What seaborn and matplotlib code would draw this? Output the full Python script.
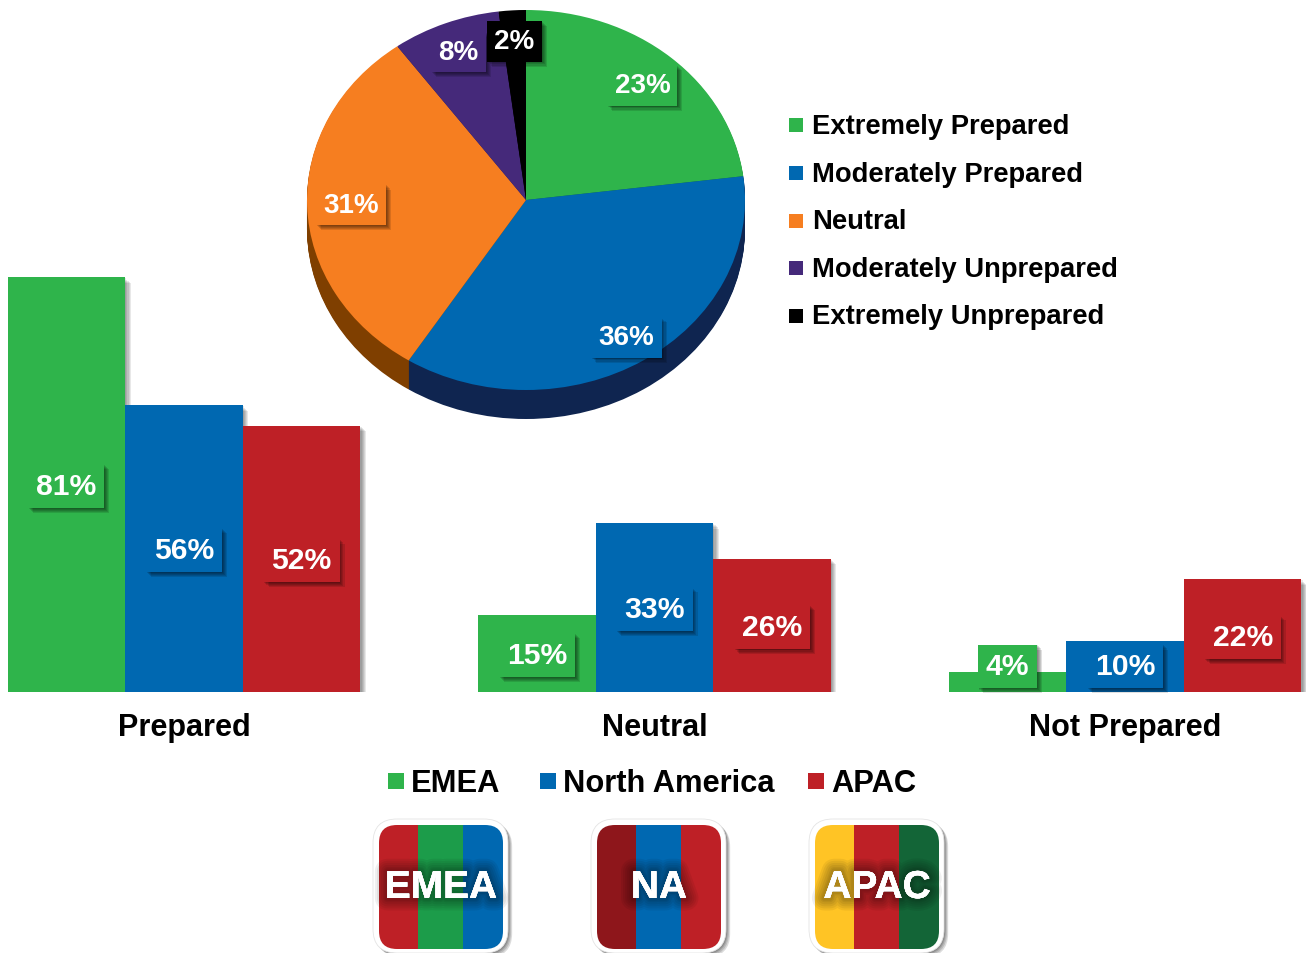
import pandas as pd
import numpy as np
import matplotlib
matplotlib.use("Agg")
import matplotlib.pyplot as plt
import matplotlib.patheffects as pe
from matplotlib.patches import FancyBboxPatch, Rectangle
import seaborn as sns

W, H = 1306, 954

# pie data
pie_labels = ["Extremely Prepared", "Moderately Prepared", "Neutral",
              "Moderately Unprepared", "Extremely Unprepared"]
pie_values = [23, 36, 31, 8, 2]
pie_colors = ["#2FB44B", "#0068B1", "#F67E20", "#45297A", "#000000"]
pie_sides = ["#1A6B2B", "#0F2550", "#7F3F00", "#2A1850", "#000000"]

# bar data
groups = ["Prepared", "Neutral", "Not Prepared"]
regions = ["EMEA", "North America", "APAC"]
emea = [81, 15, 4]
north_america = [56, 33, 10]
apac = [52, 26, 22]
region_colors = ["#2FB44B", "#0068B1", "#BE2026"]

# badges
badge_names = ["EMEA", "NA", "APAC"]
badge_colors = [["#BE2026", "#1C9C4A", "#0068B1"],
                ["#8E161B", "#0068B1", "#BE2026"],
                ["#FFC425", "#BE2026", "#136537"]]

sns.set_theme(style="white")
plt.rcParams["font.family"] = ["Liberation Sans", "DejaVu Sans"]
plt.rcParams["font.weight"] = "bold"
plt.rcParams["text.color"] = "black"
plt.rcParams["xtick.color"] = "black"


def px_rect(left, top, right, bottom):
    return [left / W, 1 - bottom / H, (right - left) / W, (bottom - top) / H]


def soft_shadow(steps=(4.0, 3.2, 2.4, 1.6, 0.8), alpha=0.09):
    effects = [pe.SimplePatchShadow(offset=(s, -s), shadow_rgbFace="black", alpha=alpha, rho=1)
               for s in steps]
    return effects + [pe.Normal()]


def label_box(text, color):
    text.set_bbox(dict(boxstyle="square,pad=0.26", fc=color, ec="none"))
    text.get_bbox_patch().set_path_effects(soft_shadow((3.6, 2.8, 2.0, 1.2, 0.6), 0.12))


fig = plt.figure(figsize=(W / 100, H / 100), dpi=100, facecolor="white")

# bars
df = pd.DataFrame({
    "Group": groups * 3,
    "Region": np.repeat(regions, 3),
    "Value": emea + north_america + apac,
})
ax = fig.add_axes(px_rect(0, 241, W, 693))
ax.patch.set_visible(False)
sns.barplot(data=df, x="Group", y="Value", hue="Region", order=groups, hue_order=regions,
            palette=region_colors, saturation=1, width=0.75, gap=0, linewidth=0, ax=ax)
ax.set_xlim(-184 / 470.5, (W - 184) / 470.5)
ax.set_ylim(0, 452 / 5.12)
ax.set_xlabel("")
ax.set_ylabel("")
ax.set_yticks([])
ax.tick_params(axis="x", length=0, pad=14.5, labelsize=22.1)
sns.despine(ax=ax, left=True, bottom=True)

for container, color in zip(ax.containers, region_colors):
    for bar in container:
        bar.set_path_effects(soft_shadow())
        v = bar.get_height()
        t = ax.text(bar.get_x() + bar.get_width() / 2, max(v / 2, 5.3) - 0.3, f"{v:.0f}%",
                    ha="center", va="center", color="white", fontsize=21.7, zorder=5)
        label_box(t, color)

# the three region keys are not evenly spaced, so one small legend each
handles, labels = ax.get_legend_handles_labels()
ax.get_legend().remove()
for handle, label, left in zip(handles, labels, [388, 540, 808]):
    leg = fig.legend([handle], [label], loc="center left", bbox_to_anchor=(left / W, 1 - 784 / H),
                     frameon=False, fontsize=22.2, handlelength=0.52, handleheight=0.42,
                     handletextpad=0.22, borderpad=0, borderaxespad=0)
    for h in leg.legend_handles:
        h.set_y(h.get_y() - 0.7)

# pie with a stacked side
rx, ry = 219, 190
pax = fig.add_axes(px_rect(300, 1, 752, 431))
pax.patch.set_visible(False)
for d in np.arange(29, 0, -1):
    pax.pie(pie_values, colors=pie_sides, center=(0, -d / ry), startangle=90, counterclock=False,
            wedgeprops=dict(linewidth=0))
wedges, _, autotexts = pax.pie(pie_values, colors=pie_colors, startangle=90, counterclock=False,
                               autopct=lambda p: f"{round(p)}%", pctdistance=0.82,
                               wedgeprops=dict(linewidth=0))
pax.set_aspect("auto")
pax.set_xlim(-226 / rx, 226 / rx)
pax.set_ylim(-230 / ry, 200 / ry)
for t, color, nudge in zip(autotexts, pie_colors, [0.98, 1.045, 0.975, 1.02, 1.02]):
    x, y = t.get_position()
    t.set_position((x * nudge, y * nudge))
    t.set_color("white")
    t.set_fontsize(20)
    t.set_fontweight("bold")
    label_box(t, color)

leg = fig.legend(wedges, pie_labels, loc="upper left", bbox_to_anchor=(789 / W, 1 - 114 / H),
                 frameon=False, fontsize=19.7, handlelength=0.51, handleheight=0.41,
                 handletextpad=0.33, labelspacing=0.79, borderpad=0, borderaxespad=0)
for h in leg.legend_handles:
    h.set_y(h.get_y() - 1.5)

# badges
over = fig.add_axes([0, 0, 1, 1])
over.set_xlim(0, W)
over.set_ylim(H, 0)
over.axis("off")
for name, colors, x0 in zip(badge_names, badge_colors, [379, 597, 815]):
    frame = FancyBboxPatch((x0 + 16, 842), 91, 90, boxstyle="round,pad=22,rounding_size=24",
                           fc="white", ec="#E4E4E4", lw=0.6, clip_on=False)
    frame.set_path_effects(soft_shadow((3.0, 2.2, 1.4, 0.8), 0.14))
    over.add_patch(frame)
    clip = FancyBboxPatch((x0 + 16, 842), 92, 92, boxstyle="round,pad=16,rounding_size=18",
                          fc="none", ec="none", transform=over.transData)
    over.add_patch(clip)
    for c, (left, width) in zip(colors, [(0, 39), (39, 45), (84, 40)]):
        band = Rectangle((x0 + left, 826), width, 124, fc=c, ec="none")
        over.add_patch(band)
        band.set_clip_path(clip)
    glow = [pe.withStroke(linewidth=w, foreground="black", alpha=0.06) for w in (18, 15, 12, 9, 6, 4)]
    over.text(x0 + 62, 889, name, ha="center", va="center", color="white", fontsize=28,
              path_effects=glow + [pe.Normal()])

fig.savefig("out.png", dpi=100)
